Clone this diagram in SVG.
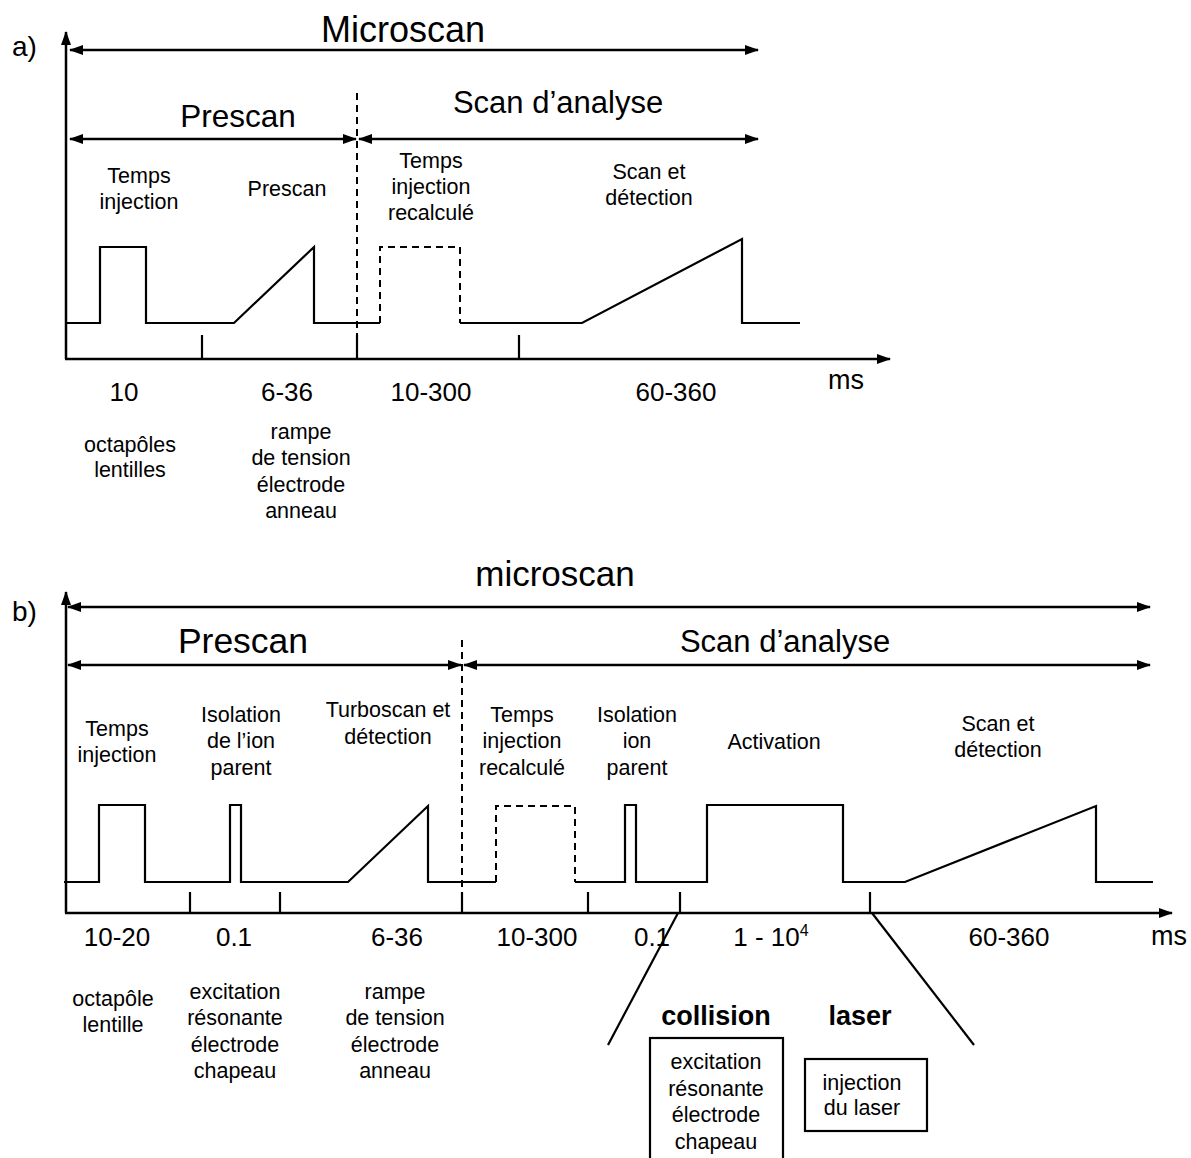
<svg xmlns="http://www.w3.org/2000/svg" width="1191" height="1158" viewBox="0 0 1191 1158">
<style>
text{font-family:"Liberation Sans",Arial,sans-serif;fill:#000;text-anchor:middle}
.lbl{font-size:21.5px}
.num{font-size:26px}
.ms{font-size:27px}
.bold{font-size:27px;font-weight:bold}
.ln{stroke:#000;stroke-width:2.5;fill:none}
.sig{stroke:#000;stroke-width:2.2;fill:none}
.dash{stroke:#000;stroke-width:2;fill:none;stroke-dasharray:7,5}
.tick{stroke:#000;stroke-width:2.2}
</style>
<defs>
<marker id="ah" viewBox="0 0 14 10" refX="13" refY="5" markerWidth="14" markerHeight="10" markerUnits="userSpaceOnUse" orient="auto-start-reverse">
<path d="M0,0 L14,5 L0,10 Z" fill="#000"/>
</marker>
</defs>

<g id="panel-a-labels">
<text x="12" y="56" style="font-size:28px;text-anchor:start">a)</text>
<text x="403" y="42" style="font-size:36px">Microscan</text>
<text x="238" y="127" style="font-size:31.5px">Prescan</text>
<text x="558" y="113" style="font-size:31px">Scan d’analyse</text>
<text x="139" y="183" class="lbl">Temps</text>
<text x="139" y="209" class="lbl">injection</text>
<text x="287" y="196" class="lbl">Prescan</text>
<text x="431" y="168" class="lbl">Temps</text>
<text x="431" y="194" class="lbl">injection</text>
<text x="431" y="220" class="lbl">recalculé</text>
<text x="649" y="179" class="lbl">Scan et</text>
<text x="649" y="205" class="lbl">détection</text>
<text x="124" y="401" class="num">10</text>
<text x="287" y="401" class="num">6-36</text>
<text x="431" y="401" class="num">10-300</text>
<text x="676" y="401" class="num">60-360</text>
<text x="846" y="389" class="ms">ms</text>
<text x="130" y="452" class="lbl">octapôles</text>
<text x="130" y="477" class="lbl">lentilles</text>
<text x="301" y="439" class="lbl">rampe</text>
<text x="301" y="465" class="lbl">de tension</text>
<text x="301" y="492" class="lbl">électrode</text>
<text x="301" y="518" class="lbl">anneau</text>
</g>

<g id="panel-a-connectors">
<line class="ln" x1="66" y1="359" x2="66" y2="32" marker-end="url(#ah)"/>
<line class="ln" x1="65" y1="359" x2="890" y2="359" marker-end="url(#ah)"/>
<line class="ln" x1="70" y1="50" x2="758" y2="50" marker-start="url(#ah)" marker-end="url(#ah)"/>
<line class="ln" x1="70" y1="139" x2="356" y2="139" marker-start="url(#ah)" marker-end="url(#ah)"/>
<line class="ln" x1="359" y1="139" x2="758" y2="139" marker-start="url(#ah)" marker-end="url(#ah)"/>
<line class="dash" x1="357" y1="93" x2="357" y2="335"/>
<line class="tick" x1="357" y1="335" x2="357" y2="359"/>
<line class="tick" x1="202" y1="335" x2="202" y2="359"/>
<line class="tick" x1="519" y1="335" x2="519" y2="359"/>
<polyline class="sig" points="65,323 100,323 100,247 146,247 146,323 234,323 314,247 314,323 380,323"/>
<polyline class="dash" points="380,323 380,247 460,247 460,323"/>
<polyline class="sig" points="460,323 582,323 742,239 742,323 800,323"/>
</g>

<g id="panel-b-labels">
<text x="12" y="621" style="font-size:28px;text-anchor:start">b)</text>
<text x="555" y="586" style="font-size:35px">microscan</text>
<text x="243" y="653" style="font-size:35.5px">Prescan</text>
<text x="785" y="652" style="font-size:31px">Scan d’analyse</text>
<text x="117" y="736" class="lbl">Temps</text>
<text x="117" y="762" class="lbl">injection</text>
<text x="241" y="722" class="lbl">Isolation</text>
<text x="241" y="748" class="lbl">de l’ion</text>
<text x="241" y="775" class="lbl">parent</text>
<text x="388" y="717" class="lbl">Turboscan et</text>
<text x="388" y="744" class="lbl">détection</text>
<text x="522" y="722" class="lbl">Temps</text>
<text x="522" y="748" class="lbl">injection</text>
<text x="522" y="775" class="lbl">recalculé</text>
<text x="637" y="722" class="lbl">Isolation</text>
<text x="637" y="748" class="lbl">ion</text>
<text x="637" y="775" class="lbl">parent</text>
<text x="774" y="749" class="lbl">Activation</text>
<text x="998" y="731" class="lbl">Scan et</text>
<text x="998" y="757" class="lbl">détection</text>
<text x="117" y="946" class="num">10-20</text>
<text x="234" y="946" class="num">0.1</text>
<text x="397" y="946" class="num">6-36</text>
<text x="537" y="946" class="num">10-300</text>
<text x="652" y="946" class="num">0.1</text>
<text x="771" y="946" class="num">1 - 10<tspan dy="-10" style="font-size:16px">4</tspan></text>
<text x="1009" y="946" class="num">60-360</text>
<text x="1169" y="945" class="ms">ms</text>
<text x="113" y="1006" class="lbl">octapôle</text>
<text x="113" y="1032" class="lbl">lentille</text>
<text x="235" y="999" class="lbl">excitation</text>
<text x="235" y="1025" class="lbl">résonante</text>
<text x="235" y="1052" class="lbl">électrode</text>
<text x="235" y="1078" class="lbl">chapeau</text>
<text x="395" y="999" class="lbl">rampe</text>
<text x="395" y="1025" class="lbl">de tension</text>
<text x="395" y="1052" class="lbl">électrode</text>
<text x="395" y="1078" class="lbl">anneau</text>
</g>

<g id="panel-b-connectors">
<line class="ln" x1="66" y1="913" x2="66" y2="592" marker-end="url(#ah)"/>
<line class="ln" x1="65" y1="913" x2="1172" y2="913" marker-end="url(#ah)"/>
<line class="ln" x1="68" y1="607" x2="1150" y2="607" marker-start="url(#ah)" marker-end="url(#ah)"/>
<line class="ln" x1="68" y1="665" x2="461" y2="665" marker-start="url(#ah)" marker-end="url(#ah)"/>
<line class="ln" x1="464" y1="665" x2="1150" y2="665" marker-start="url(#ah)" marker-end="url(#ah)"/>
<line class="dash" x1="462" y1="640" x2="462" y2="892"/>
<line class="tick" x1="462" y1="892" x2="462" y2="913"/>
<line class="tick" x1="190" y1="892" x2="190" y2="913"/>
<line class="tick" x1="280" y1="892" x2="280" y2="913"/>
<line class="tick" x1="588" y1="892" x2="588" y2="913"/>
<line class="tick" x1="680" y1="892" x2="680" y2="913"/>
<line class="tick" x1="870" y1="892" x2="870" y2="913"/>
<polyline class="sig" points="64,882 99,882 99,805 145,805 145,882 230,882 230,805 241,805 241,882 348,882 428,806 428,882 496,882"/>
<polyline class="dash" points="496,882 496,806 575,806 575,882"/>
<polyline class="sig" points="575,882 625,882 625,805 636,805 636,882 707,882 707,805 843,805 843,882 905,882 1096,806 1096,882 1153,882"/>
<line class="sig" x1="678" y1="913" x2="608" y2="1045"/>
<line class="sig" x1="872" y1="913" x2="974" y2="1045"/>
</g>

<g id="collision">
<text x="716" y="1025" class="bold">collision</text>
<rect x="650" y="1038" width="133" height="130" class="sig"/>
<text x="716" y="1069" class="lbl">excitation</text>
<text x="716" y="1096" class="lbl">résonante</text>
<text x="716" y="1122" class="lbl">électrode</text>
<text x="716" y="1149" class="lbl">chapeau</text>
</g>

<g id="laser">
<text x="860" y="1025" class="bold">laser</text>
<rect x="805" y="1059" width="122" height="72" class="sig"/>
<text x="862" y="1090" class="lbl">injection</text>
<text x="862" y="1115" class="lbl">du laser</text>
</g>
</svg>
